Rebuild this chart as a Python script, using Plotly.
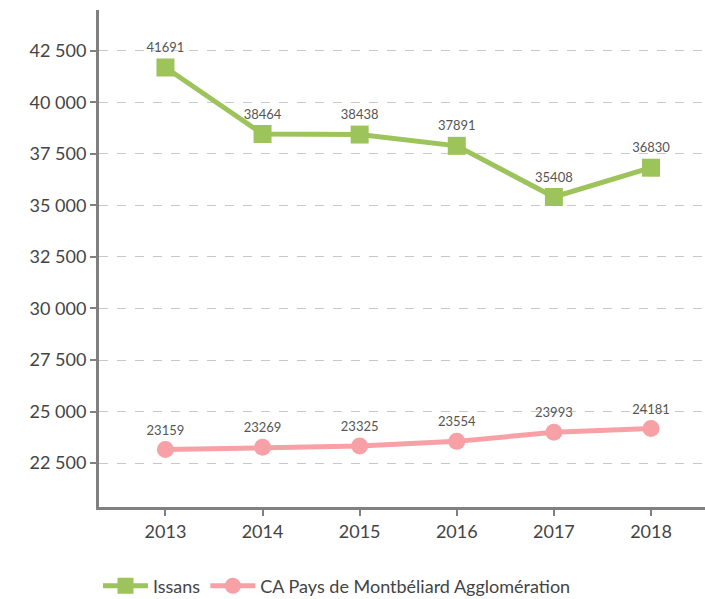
import plotly.graph_objects as go

years = [2013, 2014, 2015, 2016, 2017, 2018]
issans = [41691, 38464, 38438, 37891, 35408, 36830]
ca_pma = [23159, 23269, 23325, 23554, 23993, 24181]
y_ticks = [22500, 25000, 27500, 30000, 32500, 35000, 37500, 40000, 42500]

green = "#9dc35b"
pink = "#f7a1a6"
font_family = "Lato, 'Open Sans', sans-serif"

fig = go.Figure()
fig.add_trace(go.Scatter(
    x=years, y=issans, name="Issans", mode="lines+markers+text",
    line=dict(color=green, width=5),
    marker=dict(symbol="square", size=18, color=green),
    text=[str(v) for v in issans], textposition="top center",
    textfont=dict(size=13, color="#555555", family=font_family),
))
fig.add_trace(go.Scatter(
    x=years, y=ca_pma, name="CA Pays de Montbéliard Agglomération", mode="lines+markers+text",
    line=dict(color=pink, width=5),
    marker=dict(symbol="circle", size=17, color=pink),
    text=[str(v) for v in ca_pma], textposition="top center",
    textfont=dict(size=13, color="#555555", family=font_family),
))

fig.update_layout(
    width=705, height=599,
    margin=dict(l=99, r=0, t=10, b=92, autoexpand=False),
    paper_bgcolor="white", plot_bgcolor="white",
    separators=", ",
    font=dict(family=font_family, color="#444444"),
    showlegend=True,
    legend=dict(orientation="h", xref="container", yref="paper",
                x=98 / 705, xanchor="left", y=-0.159, yanchor="middle",
                itemwidth=45,
                font=dict(size=18, color="#444444")),
)
fig.update_xaxes(
    range=[2012.316, 2018.556], tickvals=years, ticktext=[str(y) for y in years],
    showgrid=False, zeroline=False, automargin=False,
    showline=True, linecolor="#808080", linewidth=3,
    ticks="outside", ticklen=6, tickwidth=2, tickcolor="#808080",
    tickfont=dict(size=18, color="#444444"),
)
fig.update_yaxes(
    range=[20370, 44480], tickvals=y_ticks, tickformat=",d",
    showgrid=True, gridcolor="#c8c8c8", griddash="dash", gridwidth=1,
    zeroline=False, automargin=False,
    showline=True, linecolor="#808080", linewidth=3,
    ticks="outside", ticklen=6, tickwidth=2, tickcolor="#808080",
    tickfont=dict(size=18, color="#444444"),
)

fig.write_html("out.html", config={"displayModeBar": False},
               post_script="document.body.style.margin='0';document.body.style.overflow='hidden';")
